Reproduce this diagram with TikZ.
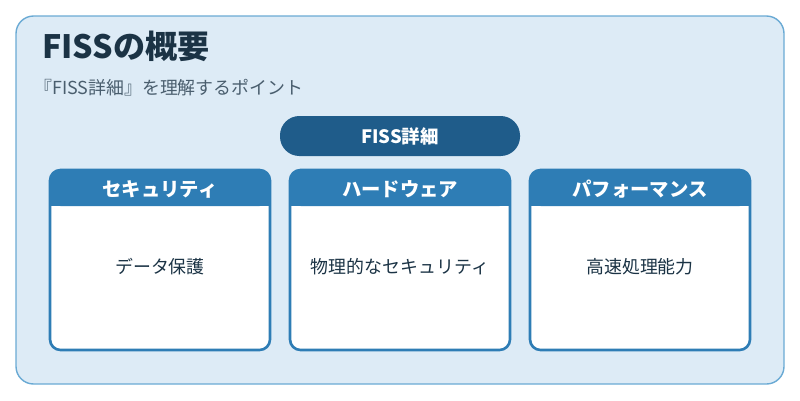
\documentclass[tikz,border=0pt]{standalone}
\usepackage{fontspec}
\setmainfont{Noto Sans CJK JP}
\usetikzlibrary{positioning}
\definecolor{bgblue}{HTML}{DDEBF6}
\definecolor{edgeblue}{HTML}{6AAAD4}
\definecolor{headblue}{HTML}{2E7DB5}
\definecolor{pillblue}{HTML}{1F5C8A}
\definecolor{titletext}{HTML}{1B3345}
\definecolor{subtext}{HTML}{4A5E6E}
\begin{document}
\begin{tikzpicture}[x=0.02cm,y=-0.02cm,
    card/.style={draw=headblue,line width=1.5pt,fill=white,rounded corners=6pt},
    head/.style={fill=headblue,rounded corners=6pt},
    headtext/.style={text=white,font=\bfseries\fontsize{11}{13}\selectfont},
    bodytext/.style={text=titletext,font=\fontsize{10.2}{12}\selectfont}]
    \useasboundingbox (0,0) rectangle (800,400);
    % panel
    \draw[fill=bgblue,draw=edgeblue,line width=0.8pt,rounded corners=10pt] (16,16) rectangle (784,384);
    \node[anchor=west,text=titletext,font=\bfseries\fontsize{18.3}{21}\selectfont] (title) at (36,46) {FISSの概要};
    \node[anchor=west,text=subtext,font=\fontsize{10.2}{12}\selectfont] (sub) at (28,88) {『FISS詳細』を理解するポイント};
    % pill
    \draw[fill=pillblue,draw=none,rounded corners=11pt] (280,116) rectangle (520,156);
    \node[text=white,font=\bfseries\fontsize{10.5}{12}\selectfont] (pill) at (400,136) {FISS詳細};
    % cards
    \foreach \x/\h/\b [count=\i] in {50/セキュリティ/データ保護, 290/ハードウェア/物理的なセキュリティ, 530/パフォーマンス/高速処理能力}{
        \draw[card] (\x,170) rectangle (\x+220,350);
        \fill[head] (\x,170) rectangle (\x+220,206);
        \fill[headblue] (\x,195) rectangle (\x+220,206);
        \node[headtext] (h\i) at (\x+110,189) {\h};
        \node[bodytext] (b\i) at (\x+110,267) {\b};
    }
\end{tikzpicture}
\end{document}
